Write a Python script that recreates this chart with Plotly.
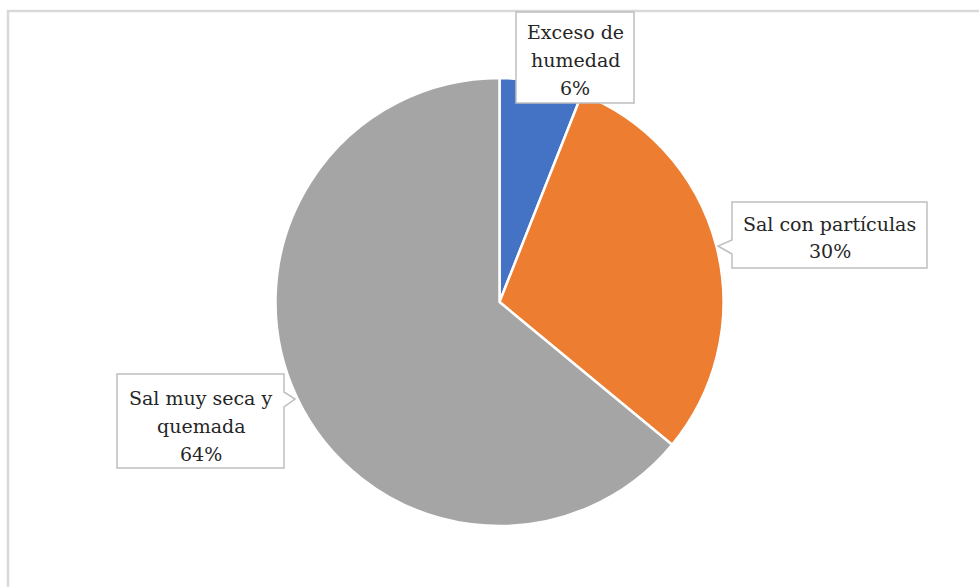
import plotly.graph_objects as go

# Pie data
categories = ["Exceso de humedad", "Sal con partículas", "Sal muy seca y quemada"]
label_lines = [["Exceso de", "humedad"], ["Sal con partículas"], ["Sal muy seca y", "quemada"]]
values = [6, 30, 64]
colors = ["#4472C4", "#ED7D31", "#A5A5A5"]

W, H = 979, 587
SERIF = "DejaVu Serif"
LINE_GAP = 28  # px between label lines


def px(x):
    return x / W


def py(y):
    return 1 - y / H


# Pie geometry in pixels
cx, top, bottom = 499.5, 78, 526
r = (bottom - top) / 2

fig = go.Figure(
    go.Pie(
        labels=categories,
        values=values,
        marker=dict(colors=colors, line=dict(color="white", width=2.5)),
        sort=False,
        direction="clockwise",
        rotation=0,
        textinfo="none",
        hoverinfo="label+percent",
        showlegend=False,
        domain=dict(x=[px(cx - r), px(cx + r)], y=[py(bottom), py(top)]),
    )
)

# Callout boxes: (left, top, right, bottom) and optional tail (side, y0, y1, tip_x, tip_y)
boxes = [
    dict(box=(516, 12, 634, 103), tail=None, text_y=60),
    dict(box=(732, 202, 927, 268), tail=("left", 240, 254, 718, 246), text_y=237.5),
    dict(box=(117, 374, 284, 468), tail=("right", 392, 407, 295, 399), text_y=425.5),
]

shapes = [
    # outer chart frame
    dict(type="rect", xref="paper", yref="paper",
         x0=px(8), y0=py(600), x1=px(990), y1=py(11),
         line=dict(color="#D9D9D9", width=2.5), fillcolor="rgba(0,0,0,0)", layer="below"),
]


def callout_path(box, tail):
    x0, y0, x1, y1 = box
    pts = [(x0, y0), (x1, y0)]
    if tail and tail[0] == "right":
        _, ty0, ty1, tx, ty = tail
        pts += [(x1, ty0), (tx, ty), (x1, ty1)]
    pts += [(x1, y1), (x0, y1)]
    if tail and tail[0] == "left":
        _, ty0, ty1, tx, ty = tail
        pts += [(x0, ty1), (tx, ty), (x0, ty0)]
    d = "M " + " L ".join(f"{px(a):.5f},{py(b):.5f}" for a, b in pts) + " Z"
    return d


annotations = []
total = sum(values)
for i, b in enumerate(boxes):
    shapes.append(dict(type="path", xref="paper", yref="paper",
                       path=callout_path(b["box"], b["tail"]),
                       fillcolor="white", line=dict(color="#BFBFBF", width=1.5),
                       layer="above"))
    pct = round(values[i] / total * 100)
    lines = label_lines[i] + [f"{pct}%"]
    x0, y0, x1, y1 = b["box"]
    first = b["text_y"] - LINE_GAP * (len(lines) - 1) / 2
    for k, line in enumerate(lines):
        annotations.append(dict(
            x=px((x0 + x1) / 2), y=py(first + k * LINE_GAP), xref="paper", yref="paper",
            text=line, showarrow=False,
            xanchor="center", yanchor="middle", align="center",
            font=dict(family=SERIF, size=19, color="#262626"),
        ))

fig.update_layout(
    width=W, height=H,
    margin=dict(l=0, r=0, t=0, b=0),
    paper_bgcolor="white", plot_bgcolor="white",
    font=dict(family=SERIF),
    shapes=shapes, annotations=annotations,
)

fig.write_html("out.html")
